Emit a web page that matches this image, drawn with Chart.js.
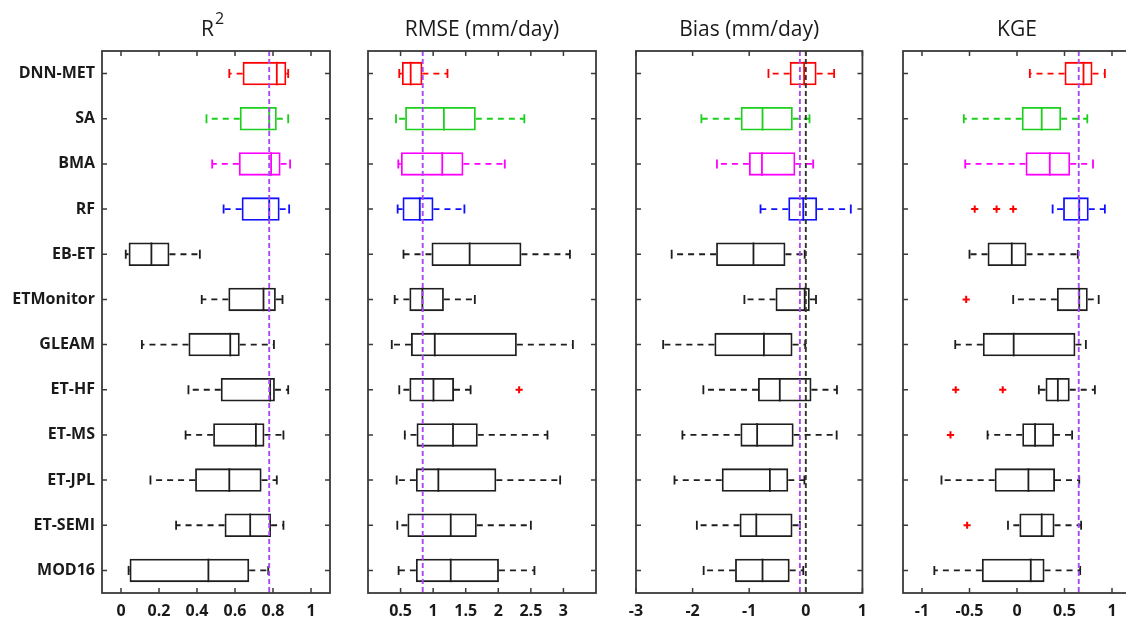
<!DOCTYPE html>
<html>
<head>
<meta charset="utf-8">
<script src="https://cdn.jsdelivr.net/npm/chart.js@4.4.1/dist/chart.umd.min.js"></script>
<style>
  html, body { margin: 0; padding: 0; background: #fff; overflow: hidden; width: 1126px; height: 619px; }
  .panel { position: absolute; top: 0; }
</style>
</head>
<body>
<div class="panel" id="p0"><canvas id="c0"></canvas></div>
<div class="panel" id="p1"><canvas id="c1"></canvas></div>
<div class="panel" id="p2"><canvas id="c2"></canvas></div>
<div class="panel" id="p3"><canvas id="c3"></canvas></div>
<script>
// ---- data -------------------------------------------------------------
const methods = ['DNN-MET', 'SA', 'BMA', 'RF', 'EB-ET', 'ETMonitor', 'GLEAM',
                 'ET-HF', 'ET-MS', 'ET-JPL', 'ET-SEMI', 'MOD16'];

const rowColors = ['#ff0000', '#1ccf1c', '#ff00ff', '#1010ff',
                   '#1e1e1e', '#1e1e1e', '#1e1e1e', '#1e1e1e',
                   '#1e1e1e', '#1e1e1e', '#1e1e1e', '#1e1e1e'];

// each row: [lower whisker, Q1, median, Q3, upper whisker]
const r2Stats = [
  [0.57, 0.64, 0.82, 0.87, 0.88],
  [0.45, 0.625, 0.78, 0.82, 0.88],
  [0.48, 0.62, 0.79, 0.84, 0.89],
  [0.54, 0.635, 0.78, 0.835, 0.885],
  [0.025, 0.04, 0.16, 0.255, 0.415],
  [0.425, 0.565, 0.75, 0.815, 0.85],
  [0.11, 0.355, 0.575, 0.625, 0.805],
  [0.355, 0.525, 0.785, 0.81, 0.88],
  [0.34, 0.485, 0.71, 0.755, 0.855],
  [0.155, 0.39, 0.57, 0.74, 0.82],
  [0.29, 0.545, 0.68, 0.79, 0.855],
  [0.04, 0.045, 0.46, 0.675, 0.775]
];
const rmseStats = [
  [0.48, 0.52, 0.655, 0.835, 1.22],
  [0.43, 0.57, 1.165, 1.655, 2.40],
  [0.465, 0.505, 1.14, 1.465, 2.10],
  [0.455, 0.53, 0.795, 1.005, 1.48],
  [0.545, 0.975, 1.56, 2.355, 3.10],
  [0.41, 0.635, 0.835, 1.165, 1.64],
  [0.365, 0.66, 1.025, 2.285, 3.145],
  [0.48, 0.635, 1.005, 1.32, 1.575],
  [0.565, 0.745, 1.305, 1.685, 2.755],
  [0.44, 0.735, 1.08, 1.97, 2.95],
  [0.45, 0.605, 1.27, 1.67, 2.50],
  [0.47, 0.735, 1.27, 2.01, 2.555]
];
const biasStats = [
  [-0.66, -0.285, -0.03, 0.19, 0.50],
  [-1.845, -1.15, -0.765, -0.23, 0.065],
  [-1.57, -1.005, -0.775, -0.185, 0.13],
  [-0.80, -0.31, -0.045, 0.20, 0.795],
  [-2.37, -1.585, -0.925, -0.36, -0.02],
  [-1.085, -0.535, -0.02, 0.07, 0.18],
  [-2.52, -1.615, -0.74, -0.235, -0.01],
  [-1.81, -0.845, -0.46, 0.10, 0.55],
  [-2.18, -1.155, -0.86, -0.215, 0.545],
  [-2.32, -1.485, -0.635, -0.31, -0.025],
  [-1.925, -1.17, -0.875, -0.235, -0.105],
  [-1.805, -1.25, -0.765, -0.285, -0.045]
];
const kgeStats = [
  [0.135, 0.50, 0.70, 0.795, 0.925],
  [-0.56, 0.05, 0.26, 0.465, 0.74],
  [-0.545, 0.09, 0.345, 0.56, 0.80],
  [0.375, 0.485, 0.655, 0.755, 0.925],
  [-0.50, -0.31, -0.055, 0.10, 0.64],
  [-0.04, 0.42, 0.655, 0.745, 0.86],
  [-0.65, -0.36, -0.035, 0.615, 0.725],
  [0.23, 0.30, 0.43, 0.555, 0.82],
  [-0.31, 0.055, 0.19, 0.39, 0.58],
  [-0.795, -0.235, 0.12, 0.40, 0.655],
  [-0.095, 0.025, 0.26, 0.395, 0.675],
  [-0.87, -0.37, 0.145, 0.29, 0.665]
];

// outlying stations
const rmseOutliers = [{ y: 'ET-HF', x: 2.32 }];
const kgeOutliers = [
  { y: 'RF', x: -0.445 }, { y: 'RF', x: -0.215 }, { y: 'RF', x: -0.04 },
  { y: 'ETMonitor', x: -0.535 },
  { y: 'ET-HF', x: -0.645 }, { y: 'ET-HF', x: -0.15 },
  { y: 'ET-MS', x: -0.70 },
  { y: 'ET-SEMI', x: -0.525 }
];

// reference lines
const r2Ref = 0.78;
const rmseRef = 0.84;
const biasRef = -0.105;
const biasZero = 0;
const kgeRef = 0.65;

// axis ticks
const r2Ticks = [0, 0.2, 0.4, 0.6, 0.8, 1];
const rmseTicks = [0.5, 1, 1.5, 2, 2.5, 3];
const biasTicks = [-3, -2, -1, 0, 1];
const kgeTicks = [-1, -0.5, 0, 0.5, 1];

// ---- drawing ----------------------------------------------------------
const FONT = '"Open Sans", "DejaVu Sans", sans-serif';
const TEXT = '#1a1a1a';
const FRAME = '#3a3a3a';
const PURPLE = '#a94af0';
const PLOT_TOP = 51, PLOT_W = 228, X_AXIS_H = 26;
const CANVAS_H = 619;
const LINE_W = 1.8;

const boxPlot = {
  id: 'boxPlot',
  afterDatasetsDraw(chart, args, opts) {
    const { ctx, chartArea } = chart;
    const xs = chart.scales.x, ys = chart.scales.y;
    const bars = chart.getDatasetMeta(0).data;
    ctx.save();
    opts.stats.forEach((s, i) => {
      const y = ys.getPixelForValue(i);
      const half = bars[i].height / 2;
      const cap = 4.5;
      const [lo, q1, med, q3, hi] = s.map(v => xs.getPixelForValue(v));
      ctx.strokeStyle = rowColors[i];
      ctx.lineWidth = LINE_W;
      // median
      ctx.setLineDash([]);
      ctx.beginPath();
      ctx.moveTo(med, y - half); ctx.lineTo(med, y + half);
      ctx.stroke();
      // whiskers
      ctx.setLineDash([6, 5]);
      ctx.beginPath();
      ctx.moveTo(q1, y); ctx.lineTo(lo, y);
      ctx.moveTo(q3, y); ctx.lineTo(hi, y);
      ctx.stroke();
      // whisker caps
      ctx.setLineDash([]);
      ctx.beginPath();
      ctx.moveTo(lo, y - cap); ctx.lineTo(lo, y + cap);
      ctx.moveTo(hi, y - cap); ctx.lineTo(hi, y + cap);
      ctx.stroke();
    });
    // reference lines
    ctx.lineWidth = 1.9;
    ctx.setLineDash([5, 3]);
    opts.refs.forEach(r => {
      const x = xs.getPixelForValue(r.value);
      ctx.strokeStyle = r.color;
      ctx.beginPath();
      ctx.moveTo(x, chartArea.top); ctx.lineTo(x, chartArea.bottom);
      ctx.stroke();
    });
    ctx.restore();
  },
  afterDraw(chart, args, opts) {
    const { ctx, chartArea: a } = chart;
    const xs = chart.scales.x, ys = chart.scales.y;
    const t = 5;
    ctx.save();
    ctx.strokeStyle = FRAME;
    ctx.lineWidth = 1.8;
    ctx.setLineDash([]);
    ctx.strokeRect(a.left, a.top, a.right - a.left, a.bottom - a.top);
    ctx.lineWidth = 1.5;
    ctx.beginPath();
    xs.ticks.forEach(tk => {
      const x = xs.getPixelForValue(tk.value);
      ctx.moveTo(x, a.top); ctx.lineTo(x, a.top + t);
      ctx.moveTo(x, a.bottom); ctx.lineTo(x, a.bottom - t);
    });
    methods.forEach((m, i) => {
      const y = ys.getPixelForValue(i);
      ctx.moveTo(a.left, y); ctx.lineTo(a.left + t, y);
      ctx.moveTo(a.right, y); ctx.lineTo(a.right - t, y);
    });
    ctx.stroke();
    // panel title
    ctx.fillStyle = TEXT;
    ctx.textBaseline = 'alphabetic';
    ctx.textAlign = 'left';
    const parts = opts.title.map(p => {
      ctx.font = (p.sup ? '16px ' : '21px ') + FONT;
      return { ...p, w: ctx.measureText(p.text).width };
    });
    const total = parts.reduce((s, p) => s + p.w, 0);
    let x = (a.left + a.right) / 2 - total / 2 + (opts.titleShift || 0);
    parts.forEach(p => {
      ctx.font = (p.sup ? '16px ' : '21px ') + FONT;
      ctx.fillText(p.text, x + (p.sup ? 1 : 0), p.sup ? 24 : 36);
      x += p.w + (p.sup ? 1 : 0);
    });
    ctx.restore();
  }
};

function buildPanel(cfg) {
  const wrap = document.getElementById(cfg.wrap);
  const canvas = document.getElementById(cfg.canvas);
  const width = cfg.yWidth + cfg.padLeft + PLOT_W + cfg.padRight;
  wrap.style.left = (cfg.plotLeft - cfg.yWidth - cfg.padLeft) + 'px';
  canvas.width = width;
  canvas.height = CANVAS_H;
  canvas.style.width = width + 'px';
  canvas.style.height = CANVAS_H + 'px';

  const datasets = [{
    type: 'bar',
    data: cfg.stats.map(s => [s[1], s[3]]),
    backgroundColor: 'rgba(0,0,0,0)',
    borderColor: rowColors,
    borderWidth: LINE_W,
    borderSkipped: false,
    barPercentage: 0.52,
    categoryPercentage: 1.0
  }];
  if (cfg.outliers) {
    datasets.push({
      type: 'scatter',
      data: cfg.outliers,
      pointStyle: 'cross',
      radius: 3.6,
      borderColor: '#ff0000',
      backgroundColor: '#ff0000',
      borderWidth: 2
    });
  }

  return new Chart(canvas, {
    type: 'bar',
    data: { labels: methods, datasets },
    options: {
      indexAxis: 'y',
      responsive: false,
      animation: false,
      events: [],
      layout: { padding: { top: PLOT_TOP, left: cfg.padLeft, right: cfg.padRight, bottom: 0 } },
      plugins: {
        legend: { display: false },
        tooltip: { enabled: false },
        boxPlot: { stats: cfg.stats, refs: cfg.refs, title: cfg.title, titleShift: cfg.titleShift }
      },
      scales: {
        x: {
          type: 'linear',
          position: 'bottom',
          min: cfg.min,
          max: cfg.max,
          grid: { display: false, drawTicks: false },
          border: { display: false },
          afterBuildTicks: s => { s.ticks = cfg.ticks.map(v => ({ value: v })); },
          afterFit: s => { s.height = X_AXIS_H; },
          ticks: {
            autoSkip: false,
            maxRotation: 0,
            padding: 9,
            color: TEXT,
            font: { family: FONT, size: 16, weight: 'bold' },
            callback: v => String(v)
          }
        },
        y: {
          type: 'category',
          position: 'left',
          grid: { display: false, drawTicks: false },
          border: { display: false },
          afterFit: s => { s.width = cfg.yWidth; },
          ticks: {
            display: cfg.showLabels,
            padding: 7,
            color: TEXT,
            font: { family: FONT, size: 16, weight: 'bold' }
          }
        }
      }
    },
    plugins: [boxPlot]
  });
}

buildPanel({
  wrap: 'p0', canvas: 'c0', plotLeft: 102, yWidth: 102, padLeft: 0, padRight: 8,
  showLabels: true, stats: r2Stats, min: -0.1, max: 1.1, ticks: r2Ticks,
  refs: [{ value: r2Ref, color: PURPLE }],
  title: [{ text: 'R' }, { text: '2', sup: true }], titleShift: -4
});
buildPanel({
  wrap: 'p1', canvas: 'c1', plotLeft: 368, yWidth: 0, padLeft: 20, padRight: 12,
  showLabels: false, stats: rmseStats, outliers: rmseOutliers, min: 0, max: 3.5, ticks: rmseTicks,
  refs: [{ value: rmseRef, color: PURPLE }],
  title: [{ text: 'RMSE (mm/day)' }]
});
buildPanel({
  wrap: 'p2', canvas: 'c2', plotLeft: 636, yWidth: 0, padLeft: 20, padRight: 12,
  showLabels: false, stats: biasStats, min: -3, max: 1, ticks: biasTicks,
  refs: [{ value: biasZero, color: '#333333' }, { value: biasRef, color: PURPLE }],
  title: [{ text: 'Bias (mm/day)' }]
});
buildPanel({
  wrap: 'p3', canvas: 'c3', plotLeft: 903, yWidth: 0, padLeft: 20, padRight: 12,
  showLabels: false, stats: kgeStats, outliers: kgeOutliers, min: -1.2, max: 1.2, ticks: kgeTicks,
  refs: [{ value: kgeRef, color: PURPLE }],
  title: [{ text: 'KGE' }]
});
</script>
</body>
</html>
